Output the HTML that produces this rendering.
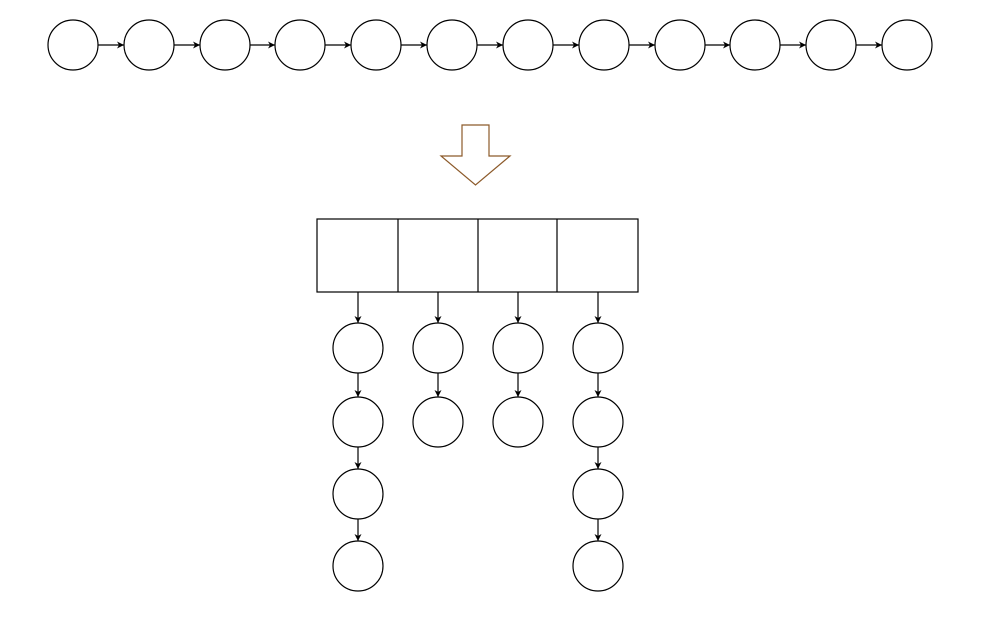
<!DOCTYPE html>
<html><head><style>body{margin:0;background:#fff}svg{display:block}</style></head><body>
<svg width="1000" height="631" viewBox="0 0 1000 631" xmlns="http://www.w3.org/2000/svg">
<defs><marker id="a" markerWidth="8" markerHeight="8" refX="7" refY="4" orient="auto" markerUnits="userSpaceOnUse"><path d="M0,0.5 L7,4 L0,7.5 L2,4 Z" fill="#000"/></marker></defs>
<g fill="#fff" stroke="#000" stroke-width="1.2">
<!-- top row -->
<g id="top"></g>
<circle cx="73" cy="45" r="25"/><circle cx="149" cy="45" r="25"/><circle cx="225" cy="45" r="25"/><circle cx="300" cy="45" r="25"/><circle cx="376" cy="45" r="25"/><circle cx="452" cy="45" r="25"/><circle cx="528" cy="45" r="25"/><circle cx="604" cy="45" r="25"/><circle cx="680" cy="45" r="25"/><circle cx="755" cy="45" r="25"/><circle cx="831" cy="45" r="25"/><circle cx="907" cy="45" r="25"/>
</g>
<g stroke="#000" stroke-width="1.2" marker-end="url(#a)">
<line x1="98" y1="45" x2="124" y2="45"/><line x1="174" y1="45" x2="200" y2="45"/><line x1="250" y1="45" x2="275" y2="45"/><line x1="325" y1="45" x2="351" y2="45"/><line x1="401" y1="45" x2="427" y2="45"/><line x1="477" y1="45" x2="503" y2="45"/><line x1="553" y1="45" x2="579" y2="45"/><line x1="629" y1="45" x2="655" y2="45"/><line x1="705" y1="45" x2="730" y2="45"/><line x1="780" y1="45" x2="806" y2="45"/><line x1="856" y1="45" x2="882" y2="45"/>
</g>
<path d="M462,125 L489,125 L489,156 L510,156 L475.5,185 L441,156 L462,156 Z" fill="#fff" stroke="#8c5a2a" stroke-width="1.2"/>
<g fill="#fff" stroke="#000" stroke-width="1.2">
<rect x="317" y="219" width="321" height="73"/>
<line x1="398" y1="219" x2="398" y2="292"/><line x1="478" y1="219" x2="478" y2="292"/><line x1="557" y1="219" x2="557" y2="292"/>
<circle cx="358" cy="348" r="25"/><circle cx="438" cy="348" r="25"/><circle cx="518" cy="348" r="25"/><circle cx="598" cy="348" r="25"/>
<circle cx="358" cy="422" r="25"/><circle cx="438" cy="422" r="25"/><circle cx="518" cy="422" r="25"/><circle cx="598" cy="422" r="25"/>
<circle cx="358" cy="494" r="25"/><circle cx="598" cy="494" r="25"/>
<circle cx="358" cy="566" r="25"/><circle cx="598" cy="566" r="25"/>
</g>
<g stroke="#000" stroke-width="1.2" marker-end="url(#a)">
<line x1="358" y1="292" x2="358" y2="323"/><line x1="438" y1="292" x2="438" y2="323"/><line x1="518" y1="292" x2="518" y2="323"/><line x1="598" y1="292" x2="598" y2="323"/>
<line x1="358" y1="373" x2="358" y2="397"/><line x1="438" y1="373" x2="438" y2="397"/><line x1="518" y1="373" x2="518" y2="397"/><line x1="598" y1="373" x2="598" y2="397"/>
<line x1="358" y1="447" x2="358" y2="469"/><line x1="598" y1="447" x2="598" y2="469"/>
<line x1="358" y1="519" x2="358" y2="541"/><line x1="598" y1="519" x2="598" y2="541"/>
</g>
</svg>
</body></html>
